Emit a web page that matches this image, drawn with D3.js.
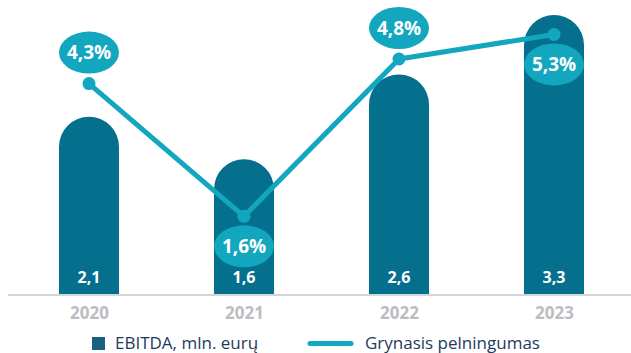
<!DOCTYPE html>
<html>
<head>
<meta charset="utf-8">
<script src="https://cdn.jsdelivr.net/npm/d3@7"></script>
<style>
  html, body { margin: 0; padding: 0; background: #fff; }
  svg { display: block; font-family: "Open Sans", "DejaVu Sans", sans-serif; }
</style>
</head>
<body>
<svg id="chart" width="631" height="353"></svg>
<script>
// Chart data
const years = ["2020", "2021", "2022", "2023"];
const ebitda = [2.1, 1.6, 2.6, 3.3];          // mln. eurų
const netMargin = [4.3, 1.6, 4.8, 5.3];       // %
const marginLabelSide = ["above", "below", "above", "below"];
const legendLabels = ["EBITDA, mln. eurų", "Grynasis pelningumas"];

const fmt = v => v.toFixed(1).replace(".", ",");

const W = 631, H = 353;
const baseY = 295;
const svg = d3.select("#chart");

// Category centres; each bar is 60px wide
const x = d3.scalePoint().domain(years).range([89, 554]);
const bw = 60;
const yBar = d3.scaleLinear().domain([0, 3.3]).range([baseY, 15]);
const yLine = d3.scaleLinear().domain([0, 6]).range([baseY, 0]);

const barColor = "#04708d";
const lineColor = "#12a6bf";

// Bars with rounded (semicircular) tops
svg.append("g").selectAll("path").data(years).join("path")
  .attr("fill", barColor)
  .attr("d", (d, i) => {
    const x0 = x(d) - bw / 2, x1 = x0 + bw, r = bw / 2;
    const top = yBar(ebitda[i]);
    return `M${x0},${baseY} L${x0},${top + r} A${r},${r} 0 0 1 ${x1},${top + r} L${x1},${baseY} Z`;
  });

// Baseline axis
const axis = svg.append("g").attr("transform", `translate(0,${baseY})`)
  .call(d3.axisBottom(x).tickSize(0).tickPadding(12));
axis.select(".domain").attr("d", `M8,0H${W}`).attr("stroke", "#d6d6da").attr("stroke-width", 2);
axis.selectAll("text")
  .attr("font-family", "'Open Sans', sans-serif")
  .attr("font-size", 17).attr("font-weight", 700).attr("fill", "#bcbcc2");

// Bar value labels
svg.append("g").selectAll("text").data(years).join("text")
  .attr("x", d => x(d)).attr("y", 282.5)
  .attr("text-anchor", "middle").attr("fill", "#fff")
  .attr("font-size", 16).attr("font-weight", 700)
  .text((d, i) => fmt(ebitda[i]));

// Net margin line
const pts = years.map((d, i) => [x(d), yLine(netMargin[i])]);
svg.append("path")
  .attr("d", d3.line()(pts))
  .attr("fill", "none").attr("stroke", lineColor)
  .attr("stroke-width", 5).attr("stroke-linejoin", "round");
svg.append("g").selectAll("circle").data(pts).join("circle")
  .attr("cx", p => p[0]).attr("cy", p => p[1]).attr("r", 6.5)
  .attr("fill", lineColor);

// Oval percentage badges
const badges = svg.append("g").selectAll("g").data(years).join("g")
  .attr("transform", (d, i) => {
    const off = marginLabelSide[i] === "above" ? -31 : 30;
    return `translate(${x(d)},${yLine(netMargin[i]) + off})`;
  });
badges.append("ellipse").attr("rx", 30).attr("ry", 21).attr("fill", lineColor);
badges.append("text")
  .attr("text-anchor", "middle").attr("dy", "0.36em")
  .attr("fill", "#fff").attr("font-size", 19).attr("font-weight", 700)
  .text((d, i) => fmt(netMargin[i]) + "%");

// Legend
const legend = svg.append("g");
legend.append("rect").attr("x", 92).attr("y", 337).attr("width", 13).attr("height", 13).attr("fill", "#1a5f80");
legend.append("text").attr("x", 115).attr("y", 349)
  .attr("font-size", 17).attr("fill", "#1e3a5a").text(legendLabels[0]);
legend.append("line").attr("x1", 310).attr("x2", 351).attr("y1", 343.5).attr("y2", 343.5)
  .attr("stroke", lineColor).attr("stroke-width", 5).attr("stroke-linecap", "round");
legend.append("text").attr("x", 365).attr("y", 349)
  .attr("font-size", 17).attr("fill", "#1e3a5a").text(legendLabels[1]);
</script>
</body>
</html>
